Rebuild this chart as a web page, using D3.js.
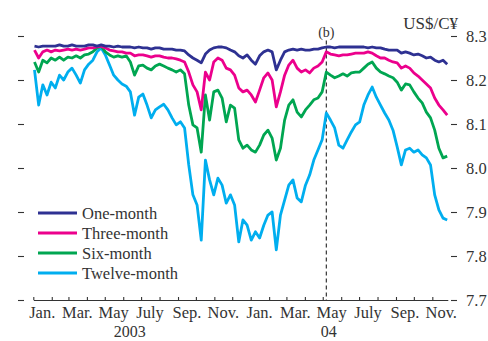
<!DOCTYPE html>
<html>
<head>
<meta charset="utf-8">
<script src="https://cdn.jsdelivr.net/npm/d3@7/dist/d3.min.js"></script>
<style>
  html, body { margin: 0; padding: 0; background: #fff; }
  svg { display: block; }
  text { font-family: "Liberation Serif", "Times New Roman", serif; fill: #333; }
</style>
</head>
<body>
<svg id="chart" width="488" height="341"></svg>
<script>
// Weekly observations, first one on 3 Jan 2003, one every 7 days (100 weeks)
const firstObs = new Date(2003, 0, 3);
const obsCount = 100;

// Forward rates, US$/C¥
const oneMonth = [
  8.277,8.275,8.277,8.277,8.277,8.277,8.280,8.277,8.277,8.280,
  8.277,8.277,8.277,8.280,8.280,8.277,8.280,8.277,8.277,8.275,
  8.277,8.275,8.275,8.275,8.273,8.275,8.273,8.273,8.270,8.273,
  8.273,8.270,8.270,8.270,8.268,8.268,8.266,8.257,8.250,8.245,
  8.239,8.259,8.268,8.273,8.275,8.275,8.273,8.268,8.264,8.255,
  8.250,8.257,8.245,8.236,8.255,8.264,8.268,8.264,8.223,8.245,
  8.264,8.268,8.270,8.268,8.270,8.268,8.268,8.270,8.270,8.273,
  8.275,8.275,8.273,8.275,8.275,8.275,8.275,8.275,8.275,8.275,
  8.273,8.275,8.273,8.273,8.270,8.268,8.268,8.268,8.261,8.264,
  8.261,8.257,8.259,8.255,8.250,8.252,8.245,8.241,8.245,8.236
];
const threeMonth = [
  8.268,8.250,8.264,8.268,8.264,8.268,8.266,8.268,8.270,8.268,
  8.270,8.268,8.270,8.273,8.273,8.275,8.277,8.273,8.268,8.266,
  8.264,8.264,8.261,8.261,8.255,8.257,8.257,8.255,8.252,8.255,
  8.255,8.252,8.250,8.250,8.248,8.245,8.241,8.218,8.189,8.173,
  8.132,8.218,8.200,8.241,8.250,8.245,8.227,8.223,8.211,8.182,
  8.173,8.177,8.166,8.150,8.177,8.205,8.216,8.200,8.139,8.173,
  8.211,8.234,8.245,8.227,8.218,8.223,8.216,8.227,8.232,8.241,
  8.264,8.259,8.257,8.255,8.257,8.257,8.259,8.261,8.261,8.261,
  8.264,8.261,8.255,8.250,8.250,8.245,8.241,8.239,8.227,8.232,
  8.227,8.216,8.209,8.200,8.191,8.182,8.159,8.143,8.132,8.120
];
const sixMonth = [
  8.241,8.218,8.245,8.239,8.250,8.245,8.252,8.245,8.252,8.250,
  8.255,8.250,8.257,8.259,8.264,8.273,8.277,8.264,8.257,8.252,
  8.255,8.252,8.255,8.241,8.211,8.232,8.234,8.227,8.223,8.232,
  8.236,8.232,8.227,8.223,8.218,8.223,8.214,8.143,8.098,8.091,
  8.036,8.166,8.109,8.173,8.177,8.159,8.105,8.143,8.136,8.064,
  8.045,8.052,8.041,8.036,8.052,8.075,8.086,8.068,8.018,8.045,
  8.109,8.143,8.155,8.127,8.116,8.132,8.143,8.155,8.159,8.173,
  8.218,8.211,8.205,8.209,8.214,8.209,8.216,8.218,8.218,8.227,
  8.236,8.241,8.227,8.218,8.214,8.209,8.205,8.195,8.177,8.191,
  8.189,8.173,8.159,8.148,8.127,8.114,8.086,8.045,8.023,8.027
];
const twelveMonth = [
  8.223,8.143,8.189,8.166,8.195,8.182,8.211,8.200,8.218,8.227,
  8.211,8.193,8.223,8.236,8.245,8.264,8.273,8.257,8.234,8.211,
  8.200,8.191,8.186,8.173,8.120,8.161,8.168,8.143,8.114,8.132,
  8.139,8.145,8.132,8.114,8.098,8.105,8.091,8.007,7.939,7.916,
  7.836,8.018,7.973,7.939,7.977,7.961,7.920,7.939,7.916,7.832,
  7.882,7.870,7.836,7.855,7.841,7.870,7.893,7.900,7.814,7.893,
  7.927,7.961,7.973,7.932,7.923,7.961,7.984,8.018,8.041,8.064,
  8.125,8.109,8.091,8.052,8.045,8.064,8.082,8.098,8.105,8.143,
  8.166,8.184,8.161,8.143,8.125,8.109,8.086,8.048,8.007,8.041,
  8.045,8.036,8.041,8.030,8.023,8.007,7.939,7.905,7.886,7.882
];

const seriesNames  = ["One-month", "Three-month", "Six-month", "Twelve-month"];
const seriesColors = ["#2e3192", "#ec008c", "#00a651", "#00aeef"];
const seriesValues = [oneMonth, threeMonth, sixMonth, twelveMonth];

const yTicks = [7.7, 7.8, 7.9, 8.0, 8.1, 8.2, 8.3];
const monthLabels = ["Jan.", "Mar.", "May", "July", "Sep.", "Nov."];
const yearLabels = [
  { text: "2003", date: new Date(2003, 5, 12) },
  { text: "04",   date: new Date(2004, 4, 11) }
];
const eventDate = new Date(2004, 4, 7);
const eventLabel = "(b)";
const unitLabel = "US$/C\u00A5";

const dates = d3.range(obsCount).map(i => d3.timeDay.offset(firstObs, 7 * i));

const svg = d3.select("#chart");

const x = d3.scaleTime()
  .domain([new Date(2003, 0, 1), new Date(2004, 10, 27)])
  .range([33.3, 447.8]);
const y = d3.scaleLinear().domain([7.7, 8.3]).range([300, 36]);

// Monthly ticks pointing up from the base line
const monthTicks = d3.timeMonth.range(new Date(2003, 0, 1), new Date(2004, 10, 2));
const xAxis = svg.append("g")
  .attr("transform", "translate(0,300)")
  .call(d3.axisBottom(x).tickValues(monthTicks).tickSize(-3).tickSizeOuter(0).tickFormat(""));
xAxis.select(".domain").attr("stroke", "#333").attr("stroke-width", 1.1);
xAxis.selectAll(".tick line").attr("stroke", "#333").attr("stroke-width", 1.1);

// Month names sit in the middle of their month
const labelDates = d3.timeMonth.range(new Date(2003, 0, 1), new Date(2004, 11, 1), 2)
  .map(d => d3.timeDay.offset(d, 15));
svg.append("g").selectAll("text")
  .data(labelDates)
  .join("text")
  .attr("x", d => x(d))
  .attr("y", 318)
  .attr("text-anchor", "middle")
  .attr("font-size", 16.5)
  .text(d => monthLabels[d.getMonth() / 2]);

svg.append("g").selectAll("text")
  .data(yearLabels)
  .join("text")
  .attr("x", d => x(d.date))
  .attr("y", 337)
  .attr("text-anchor", "middle")
  .attr("font-size", 16)
  .text(d => d.text);

// Right-hand scale
const yRight = svg.append("g")
  .attr("transform", "translate(451,0)")
  .call(d3.axisRight(y).tickValues(yTicks).tickSize(6).tickPadding(9).tickFormat(d3.format(".1f")));
yRight.select(".domain").remove();
yRight.selectAll(".tick line").attr("stroke", "#333").attr("stroke-width", 1.1);
yRight.selectAll(".tick text")
  .attr("font-size", 16.5)
  .attr("font-family", "Liberation Serif, serif")
  .attr("fill", "#333");

// Left-hand tick marks only
const yLeft = svg.append("g")
  .attr("transform", "translate(24,0)")
  .call(d3.axisLeft(y).tickValues(yTicks).tickSize(6).tickFormat(""));
yLeft.select(".domain").remove();
yLeft.selectAll(".tick line").attr("stroke", "#333").attr("stroke-width", 1.1);

svg.append("text")
  .attr("x", 458)
  .attr("y", 29)
  .attr("text-anchor", "end")
  .attr("font-size", 17)
  .text(unitLabel);

// Event marker
svg.append("line")
  .attr("x1", x(eventDate)).attr("x2", x(eventDate))
  .attr("y1", y(8.29)).attr("y2", y(7.7))
  .attr("stroke", "#222")
  .attr("stroke-width", 1.1)
  .attr("stroke-dasharray", "4,3");
svg.append("text")
  .attr("x", x(eventDate))
  .attr("y", 37)
  .attr("text-anchor", "middle")
  .attr("font-size", 14)
  .text(eventLabel);

// Series lines, longest maturity drawn first
const line = d3.line()
  .x((d, i) => x(dates[i]))
  .y(d => y(d));

const order = [3, 2, 1, 0];
svg.append("g").selectAll("path")
  .data(order)
  .join("path")
  .attr("d", k => line(seriesValues[k]))
  .attr("fill", "none")
  .attr("stroke", k => seriesColors[k])
  .attr("stroke-width", 2.8)
  .attr("stroke-linejoin", "round");

// Legend
const legend = svg.append("g").selectAll("g")
  .data(seriesNames)
  .join("g")
  .attr("transform", (d, i) => `translate(38,${213 + i * 20})`);
legend.append("line")
  .attr("x1", 0).attr("x2", 39)
  .attr("stroke", (d, i) => seriesColors[i])
  .attr("stroke-width", 3);
legend.append("text")
  .attr("x", 44)
  .attr("y", 5.5)
  .attr("font-size", 16.5)
  .text(d => d);
</script>
</body>
</html>
